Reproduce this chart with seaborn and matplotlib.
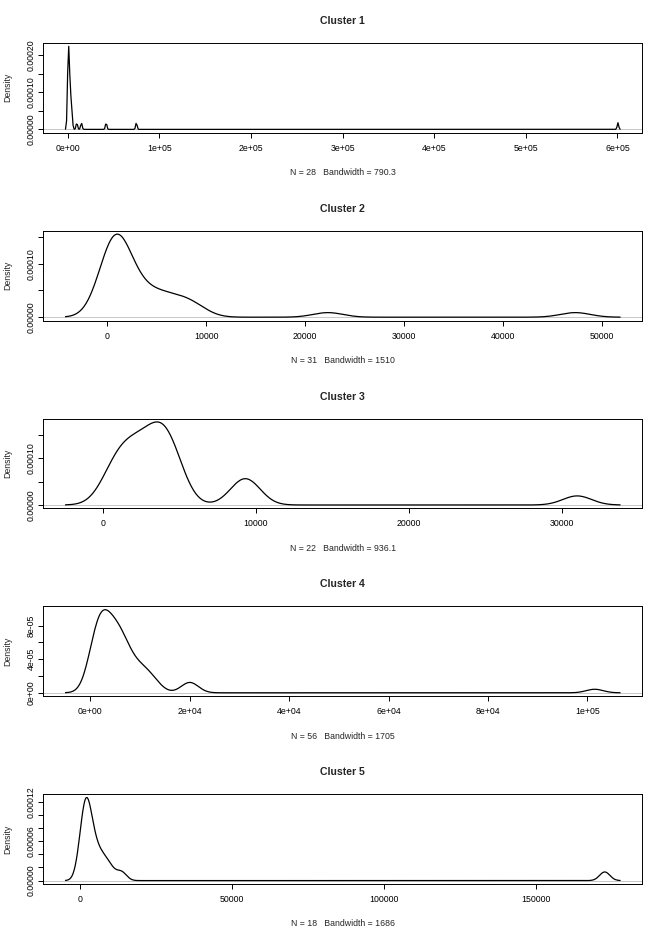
import matplotlib
matplotlib.use("Agg")
import matplotlib.pyplot as plt
import numpy as np
import seaborn as sns

# sample values per cluster
cluster_1 = [0, 120, 240, 360, 480, 600, 720, 840, 960, 1080, 1200, 1350,
             1500, 1700, 1900, 2100, 2400, 2700, 3000, 3400, 3800, 4300,
             4900, 10000, 15000, 42000, 75000, 600500]
cluster_2 = [300, 320, 340, 360, 380, 400, 420, 450, 480, 520, 560,
             1200, 1300, 1400, 1500, 1650, 1800, 1900, 2000,
             3200, 3700, 4200, 4800, 5400, 6000, 6800, 7600, 8400, 9000,
             22300, 47300]
cluster_3 = [350, 700, 1000, 1300, 1600, 1900, 2200, 2500, 2800, 3100, 3400,
             3600, 3800, 4000, 4200, 4400, 4600, 4800, 9000, 9300, 9600,
             31000]
cluster_4 = [100, 300, 500, 700, 900,
             1050, 1200, 1350, 1500, 1650, 1800, 1950,
             2050, 2200, 2350, 2500, 2650, 2800, 2950,
             3100, 3300, 3500, 3700, 3900,
             4100, 4300, 4500, 4700, 4900,
             5100, 5300, 5500, 5700, 5900,
             6100, 6300, 6500, 6700, 6900,
             7200, 7500, 7800, 8250, 8750, 9250, 9750,
             10250, 10750, 11250, 11750, 12500, 13500,
             19600, 20000, 20400, 101500]
cluster_5 = [200, 800, 1200, 1500, 1700, 1900, 2100, 2400, 2800, 3300, 4000,
             4800, 5800, 7000, 8300, 10000, 13500, 172500]

clusters = [cluster_1, cluster_2, cluster_3, cluster_4, cluster_5]
titles = ["Cluster 1", "Cluster 2", "Cluster 3", "Cluster 4", "Cluster 5"]
bandwidths = [790.3, 1510, 936.1, 1705, 1686]

x_ticks = [
    [0, 100000, 200000, 300000, 400000, 500000, 600000],
    [0, 10000, 20000, 30000, 40000, 50000],
    [0, 10000, 20000, 30000],
    [0, 20000, 40000, 60000, 80000, 100000],
    [0, 50000, 100000, 150000],
]
x_tick_labels = [
    ["0e+00", "1e+05", "2e+05", "3e+05", "4e+05", "5e+05", "6e+05"],
    ["0", "10000", "20000", "30000", "40000", "50000"],
    ["0", "10000", "20000", "30000"],
    ["0e+00", "2e+04", "4e+04", "6e+04", "8e+04", "1e+05"],
    ["0", "50000", "100000", "150000"],
]
y_ticks = [
    [0, 0.00005, 0.0001, 0.00015, 0.0002],
    [0, 0.00005, 0.0001, 0.00015],
    [0, 0.00005, 0.0001, 0.00015],
    [0, 0.00002, 0.00004, 0.00006, 0.00008],
    [0, 0.00002, 0.00004, 0.00006, 0.00008, 0.0001, 0.00012],
]
y_tick_labels = [
    ["0.00000", "", "0.00010", "", "0.00020"],
    ["0.00000", "", "0.00010", ""],
    ["0.00000", "", "0.00010", ""],
    ["0e+00", "", "4e-05", "", "8e-05"],
    ["0.00000", "", "", "0.00006", "", "", "0.00012"],
]

sns.set_theme(style="white")
plt.rcParams['font.family'] = ['Liberation Sans', 'DejaVu Sans']

W, H = 664, 939
fig = plt.figure(figsize=(W / 100, H / 100), dpi=100)
row_h = H / 5
ax_left, ax_w, ax_h, ax_top = 43.3, 599.0, 89.7, 43.0

for i, values in enumerate(clusters):
    top = ax_top + i * row_h
    ax = fig.add_axes([ax_left / W, 1 - (top + ax_h) / H, ax_w / W, ax_h / H])
    x = np.asarray(values, dtype=float)
    bw = bandwidths[i]
    sns.kdeplot(x=x, bw_method=bw / x.std(ddof=1), cut=3, gridsize=512,
                color="black", linewidth=0.9, ax=ax)

    xs = ax.lines[0].get_xdata()
    ys = ax.lines[0].get_ydata()
    xr = xs.max() - xs.min()
    yr = ys.max() - ys.min()
    ax.set_xlim(xs.min() - 0.04 * xr, xs.max() + 0.04 * xr)
    ax.set_ylim(ys.min() - 0.04 * yr, ys.max() + 0.04 * yr)
    ax.axhline(0, color="#bebebe", linewidth=0.6, zorder=0)

    ax.set_xticks(x_ticks[i])
    ax.set_xticklabels(x_tick_labels[i])
    ax.set_yticks(y_ticks[i])
    ax.set_yticklabels(y_tick_labels[i], rotation=90, va="center")
    ax.tick_params(axis="both", direction="out", length=3.8, width=0.7,
                   color="black", labelsize=6.3, labelcolor="black",
                   bottom=True, left=True)
    ax.tick_params(axis="x", pad=4.2)
    ax.tick_params(axis="y", pad=1.5)
    for s in ax.spines.values():
        s.set_visible(True)
        s.set_color("black")
        s.set_linewidth(0.7)

    ax.set_xlabel("")
    ax.set_ylabel("")
    ax.text(0.5, 1 + 22 / ax_h, titles[i], transform=ax.transAxes,
            ha="center", va="center", fontsize=7.6, fontweight="bold")
    ax.text(0.5, -40 / ax_h, f"N = {len(values)}   Bandwidth = {bw:g}",
            transform=ax.transAxes, ha="center", va="center", fontsize=6.3)
    ax.text(-36 / ax_w, 0.5, "Density", transform=ax.transAxes,
            ha="center", va="center", rotation=90, fontsize=6.3)

fig.savefig("out.png", dpi=100, facecolor="white")
